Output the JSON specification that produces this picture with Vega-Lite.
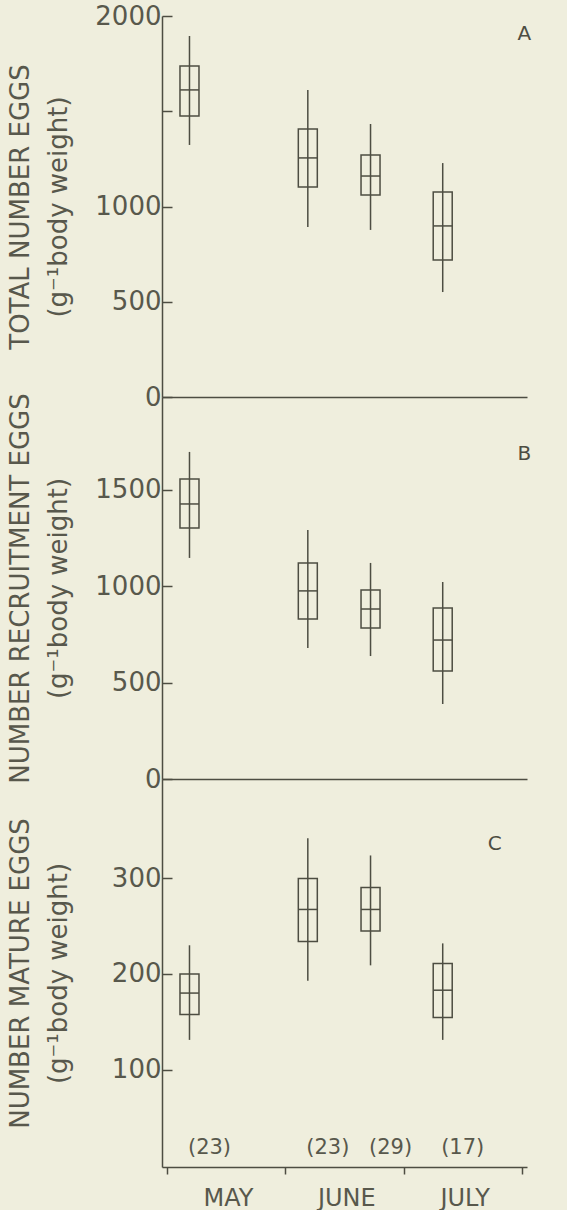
{
  "$schema": "https://vega.github.io/schema/vega-lite/v6.json",
  "background": "#efeedd",
  "padding": {"left": 7, "top": 3, "right": 39, "bottom": 0},
  "spacing": 0,
  "bounds": "flush",
  "config": {
    "view": {"stroke": null},
    "font": "DejaVu Sans",
    "axis": {
      "grid": false,
      "domainColor": "#4d4d42",
      "domainWidth": 1.5,
      "tickColor": "#4d4d42",
      "tickWidth": 1.5,
      "labelColor": "#58584c",
      "titleColor": "#58584c",
      "labelFont": "DejaVu Sans",
      "titleFont": "DejaVu Sans",
      "labelFontSize": 26,
      "titleFontSize": 26,
      "titleFontWeight": "normal",
      "labelFontWeight": "normal"
    }
  },
  "datasets": {
    "boxes": [
      {"panel": "A", "month": 0.19, "wlo": 1323, "blo": 1475, "med": 1612, "bhi": 1738, "whi": 1895, "n": "(23)"},
      {"panel": "A", "month": 1.19, "wlo": 892, "blo": 1102, "med": 1255, "bhi": 1407, "whi": 1612, "n": "(23)"},
      {"panel": "A", "month": 1.72, "wlo": 877, "blo": 1060, "med": 1160, "bhi": 1270, "whi": 1433, "n": "(29)"},
      {"panel": "A", "month": 2.33, "wlo": 551, "blo": 719, "med": 898, "bhi": 1076, "whi": 1228, "n": "(17)"},
      {"panel": "B", "month": 0.19, "wlo": 1147, "blo": 1302, "med": 1427, "bhi": 1557, "whi": 1697, "n": "(23)"},
      {"panel": "B", "month": 1.19, "wlo": 680, "blo": 830, "med": 976, "bhi": 1121, "whi": 1292, "n": "(23)"},
      {"panel": "B", "month": 1.72, "wlo": 638, "blo": 784, "med": 882, "bhi": 981, "whi": 1121, "n": "(29)"},
      {"panel": "B", "month": 2.33, "wlo": 389, "blo": 560, "med": 721, "bhi": 887, "whi": 1022, "n": "(17)"},
      {"panel": "C", "month": 0.19, "wlo": 131, "blo": 157.5, "med": 180, "bhi": 200, "whi": 230, "n": "(23)"},
      {"panel": "C", "month": 1.19, "wlo": 193, "blo": 234, "med": 267.5, "bhi": 300, "whi": 342, "n": "(23)"},
      {"panel": "C", "month": 1.72, "wlo": 209, "blo": 245, "med": 267.5, "bhi": 290.5, "whi": 324, "n": "(29)"},
      {"panel": "C", "month": 2.33, "wlo": 131, "blo": 154.5, "med": 183, "bhi": 211, "whi": 232, "n": "(17)"}
    ],
    "letters": [
      {"panel": "A", "month": 3.02, "value": 1905},
      {"panel": "B", "month": 3.02, "value": 1687},
      {"panel": "C", "month": 2.77, "value": 336}
    ]
  },
  "vconcat": [
    {
      "width": 365,
      "height": 381,
      "layer": [
        {
          "data": {"name": "boxes"},
          "transform": [{"filter": "datum.panel == 'A'"}],
          "mark": {"type": "rule", "color": "#4d4d42", "strokeWidth": 1.5},
          "encoding": {
            "x": {"field": "month", "type": "quantitative", "scale": {"domain": [0, 3], "nice": false},
                  "axis": {"title": null, "ticks": false, "labels": false, "domain": true}},
            "y": {"field": "wlo", "type": "quantitative", "scale": {"domain": [0, 2000], "nice": false},
                  "axis": {"values": [0, 500, 1000, 1500, 2000], "labelExpr": "datum.value == 1500 ? '' : datum.label",
                           "format": "d", "tickSize": -10, "labelPadding": 11,
                           "title": ["TOTAL NUMBER EGGS", "(g⁻¹body weight)"], "titleLineHeight": 38,
                           "minExtent": 82, "maxExtent": 82, "titlePadding": 9}},
            "y2": {"field": "whi"}
          }
        },
        {
          "data": {"name": "boxes"},
          "transform": [{"filter": "datum.panel == 'A'"}],
          "mark": {"type": "bar", "size": 19, "color": "#4d4d42", "fillOpacity": 0, "stroke": "#4d4d42", "strokeWidth": 1.5},
          "encoding": {
            "x": {"field": "month", "type": "quantitative"},
            "y": {"field": "blo", "type": "quantitative"},
            "y2": {"field": "bhi"}
          }
        },
        {
          "data": {"name": "boxes"},
          "transform": [{"filter": "datum.panel == 'A'"}],
          "mark": {"type": "tick", "orient": "horizontal", "size": 19, "thickness": 1.5, "color": "#4d4d42", "opacity": 1},
          "encoding": {
            "x": {"field": "month", "type": "quantitative"},
            "y": {"field": "med", "type": "quantitative"}
          }
        },
        {
          "data": {"name": "letters"},
          "transform": [{"filter": "datum.panel == 'A'"}],
          "mark": {"type": "text", "fontSize": 20, "color": "#4d4d42", "baseline": "middle", "align": "center"},
          "encoding": {
            "x": {"field": "month", "type": "quantitative"},
            "y": {"field": "value", "type": "quantitative"},
            "text": {"field": "panel"}
          }
        }
      ]
    },
    {
      "width": 365,
      "height": 382,
      "layer": [
        {
          "data": {"name": "boxes"},
          "transform": [{"filter": "datum.panel == 'B'"}],
          "mark": {"type": "rule", "color": "#4d4d42", "strokeWidth": 1.5},
          "encoding": {
            "x": {"field": "month", "type": "quantitative", "scale": {"domain": [0, 3], "nice": false},
                  "axis": {"title": null, "ticks": false, "labels": false, "domain": true}},
            "y": {"field": "wlo", "type": "quantitative", "scale": {"domain": [0, 1982], "nice": false},
                  "axis": {"values": [0, 500, 1000, 1500], "format": "d", "tickSize": -10, "labelPadding": 11,
                           "title": ["NUMBER RECRUITMENT EGGS", "(g⁻¹body weight)"], "titleLineHeight": 38,
                           "minExtent": 82, "maxExtent": 82, "titlePadding": 9}},
            "y2": {"field": "whi"}
          }
        },
        {
          "data": {"name": "boxes"},
          "transform": [{"filter": "datum.panel == 'B'"}],
          "mark": {"type": "bar", "size": 19, "color": "#4d4d42", "fillOpacity": 0, "stroke": "#4d4d42", "strokeWidth": 1.5},
          "encoding": {
            "x": {"field": "month", "type": "quantitative"},
            "y": {"field": "blo", "type": "quantitative"},
            "y2": {"field": "bhi"}
          }
        },
        {
          "data": {"name": "boxes"},
          "transform": [{"filter": "datum.panel == 'B'"}],
          "mark": {"type": "tick", "orient": "horizontal", "size": 19, "thickness": 1.5, "color": "#4d4d42", "opacity": 1},
          "encoding": {
            "x": {"field": "month", "type": "quantitative"},
            "y": {"field": "med", "type": "quantitative"}
          }
        },
        {
          "data": {"name": "letters"},
          "transform": [{"filter": "datum.panel == 'B'"}],
          "mark": {"type": "text", "fontSize": 20, "color": "#4d4d42", "baseline": "middle", "align": "center"},
          "encoding": {
            "x": {"field": "month", "type": "quantitative"},
            "y": {"field": "value", "type": "quantitative"},
            "text": {"field": "panel"}
          }
        }
      ]
    },
    {
      "width": 365,
      "height": 388,
      "layer": [
        {
          "data": {"name": "boxes"},
          "transform": [{"filter": "datum.panel == 'C'"}],
          "mark": {"type": "rule", "color": "#4d4d42", "strokeWidth": 1.5},
          "encoding": {
            "x": {"field": "month", "type": "quantitative", "scale": {"domain": [0, 3], "nice": false},
                  "axis": {"title": null, "values": [0, 1, 2, 3], "tickSize": 7, "labelPadding": 12,
                           "labelExpr": "datum.value == 0 ? 'MAY' : datum.value == 1 ? 'JUNE' : datum.value == 2 ? 'JULY' : ''",
                           "labelOffset": 61, "labelAlign": "center", "labelFontSize": 24, "labelFlush": false}},
            "y": {"field": "wlo", "type": "quantitative", "scale": {"domain": [-2, 404], "nice": false},
                  "axis": {"values": [100, 200, 300], "format": "d", "tickSize": -10, "labelPadding": 11,
                           "title": ["NUMBER MATURE EGGS", "(g⁻¹body weight)"], "titleLineHeight": 38,
                           "minExtent": 82, "maxExtent": 82, "titlePadding": 9}},
            "y2": {"field": "whi"}
          }
        },
        {
          "data": {"name": "boxes"},
          "transform": [{"filter": "datum.panel == 'C'"}],
          "mark": {"type": "bar", "size": 19, "color": "#4d4d42", "fillOpacity": 0, "stroke": "#4d4d42", "strokeWidth": 1.5},
          "encoding": {
            "x": {"field": "month", "type": "quantitative"},
            "y": {"field": "blo", "type": "quantitative"},
            "y2": {"field": "bhi"}
          }
        },
        {
          "data": {"name": "boxes"},
          "transform": [{"filter": "datum.panel == 'C'"}],
          "mark": {"type": "tick", "orient": "horizontal", "size": 19, "thickness": 1.5, "color": "#4d4d42", "opacity": 1},
          "encoding": {
            "x": {"field": "month", "type": "quantitative"},
            "y": {"field": "med", "type": "quantitative"}
          }
        },
        {
          "data": {"name": "boxes"},
          "transform": [{"filter": "datum.panel == 'C'"}],
          "mark": {"type": "text", "fontSize": 21, "color": "#58584c", "baseline": "middle", "align": "center", "dx": 20},
          "encoding": {
            "x": {"field": "month", "type": "quantitative"},
            "y": {"datum": 18, "type": "quantitative"},
            "text": {"field": "n"}
          }
        },
        {
          "data": {"name": "letters"},
          "transform": [{"filter": "datum.panel == 'C'"}],
          "mark": {"type": "text", "fontSize": 20, "color": "#4d4d42", "baseline": "middle", "align": "center"},
          "encoding": {
            "x": {"field": "month", "type": "quantitative"},
            "y": {"field": "value", "type": "quantitative"},
            "text": {"field": "panel"}
          }
        }
      ]
    }
  ]
}
